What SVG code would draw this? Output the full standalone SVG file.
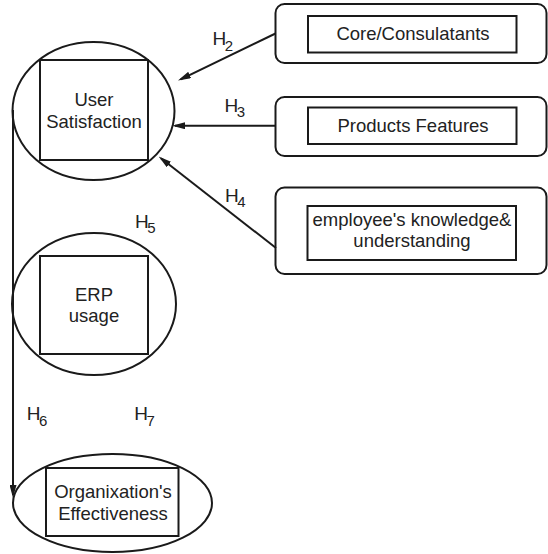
<svg xmlns="http://www.w3.org/2000/svg" width="548" height="554" viewBox="0 0 548 554">
<style>
.s{fill:none;stroke:#1a1a1a;stroke-width:2}
.t{font-family:"Liberation Sans",Arial,sans-serif;font-size:18.5px;fill:#222;text-anchor:middle}
.h{font-family:"Liberation Sans",Arial,sans-serif;font-size:19px;fill:#222}
.h tspan{font-size:15px}
.c{fill:none;stroke:#1a1a1a;stroke-width:2}
</style>
<defs>
<marker id="ah" viewBox="0 0 13 7" refX="10" refY="3.5" markerWidth="13" markerHeight="7" markerUnits="userSpaceOnUse" orient="auto">
<path d="M0,0 L13,3.5 L0,7 z" fill="#1a1a1a"/>
</marker>
</defs>
<rect width="548" height="554" fill="#fff"/>
<g id="user-satisfaction">
<ellipse class="s" cx="93.5" cy="111" rx="81" ry="69"/>
<rect class="s" x="40" y="60" width="108" height="100"/>
<text class="t" x="94" y="106">User</text>
<text class="t" x="94" y="128">Satisfaction</text>
</g>
<g id="erp-usage">
<ellipse class="s" cx="94" cy="304" rx="82" ry="71"/>
<rect class="s" x="40" y="256" width="108" height="98"/>
<text class="t" x="94" y="301">ERP</text>
<text class="t" x="94" y="322">usage</text>
</g>
<g id="org-effectiveness">
<ellipse class="s" cx="112.5" cy="503" rx="99.5" ry="49"/>
<rect class="s" x="46" y="468" width="132.5" height="68"/>
<text class="t" x="113" y="498">Organixation's</text>
<text class="t" x="113" y="520">Effectiveness</text>
</g>
<g id="core-consultants">
<rect class="s" x="275.5" y="4" width="271" height="59" rx="9"/>
<rect class="s" x="308" y="16" width="208.5" height="36.5"/>
<text class="t" x="413" y="40">Core/Consulatants</text>
</g>
<g id="products-features">
<rect class="s" x="275.5" y="97" width="271" height="59" rx="9"/>
<rect class="s" x="308" y="107.5" width="208.5" height="36.5"/>
<text class="t" x="413" y="132">Products Features</text>
</g>
<g id="employee-knowledge">
<rect class="s" x="275.5" y="187.5" width="271" height="86.5" rx="9"/>
<rect class="s" x="307.5" y="206" width="208.5" height="54"/>
<text class="t" x="412" y="226">employee's knowledge&amp;</text>
<text class="t" x="412" y="247">understanding</text>
</g>
<g id="connectors">
<line class="c" x1="275.5" y1="33.5" x2="180.7" y2="79.3" marker-end="url(#ah)"/>
<line class="c" x1="275.5" y1="125.7" x2="175" y2="125.7" marker-end="url(#ah)"/>
<line class="c" x1="276" y1="248" x2="161" y2="158.3" marker-end="url(#ah)"/>
<line class="c" x1="13" y1="110" x2="13" y2="495" marker-end="url(#ah)"/>
</g>
<g id="labels">
<text class="h" x="212.5" y="45">H<tspan dx="-1.5" dy="5.5">2</tspan></text>
<text class="h" x="224.5" y="111.7">H<tspan dx="-1.5" dy="5.5">3</tspan></text>
<text class="h" x="225" y="201.7">H<tspan dx="-1.5" dy="5.5">4</tspan></text>
<text class="h" x="135" y="227.7">H<tspan dx="-1.5" dy="5.5">5</tspan></text>
<text class="h" x="26.7" y="420">H<tspan dx="-1.5" dy="5.5">6</tspan></text>
<text class="h" x="134.3" y="420">H<tspan dx="-1.5" dy="5.5">7</tspan></text>
</g>
</svg>
